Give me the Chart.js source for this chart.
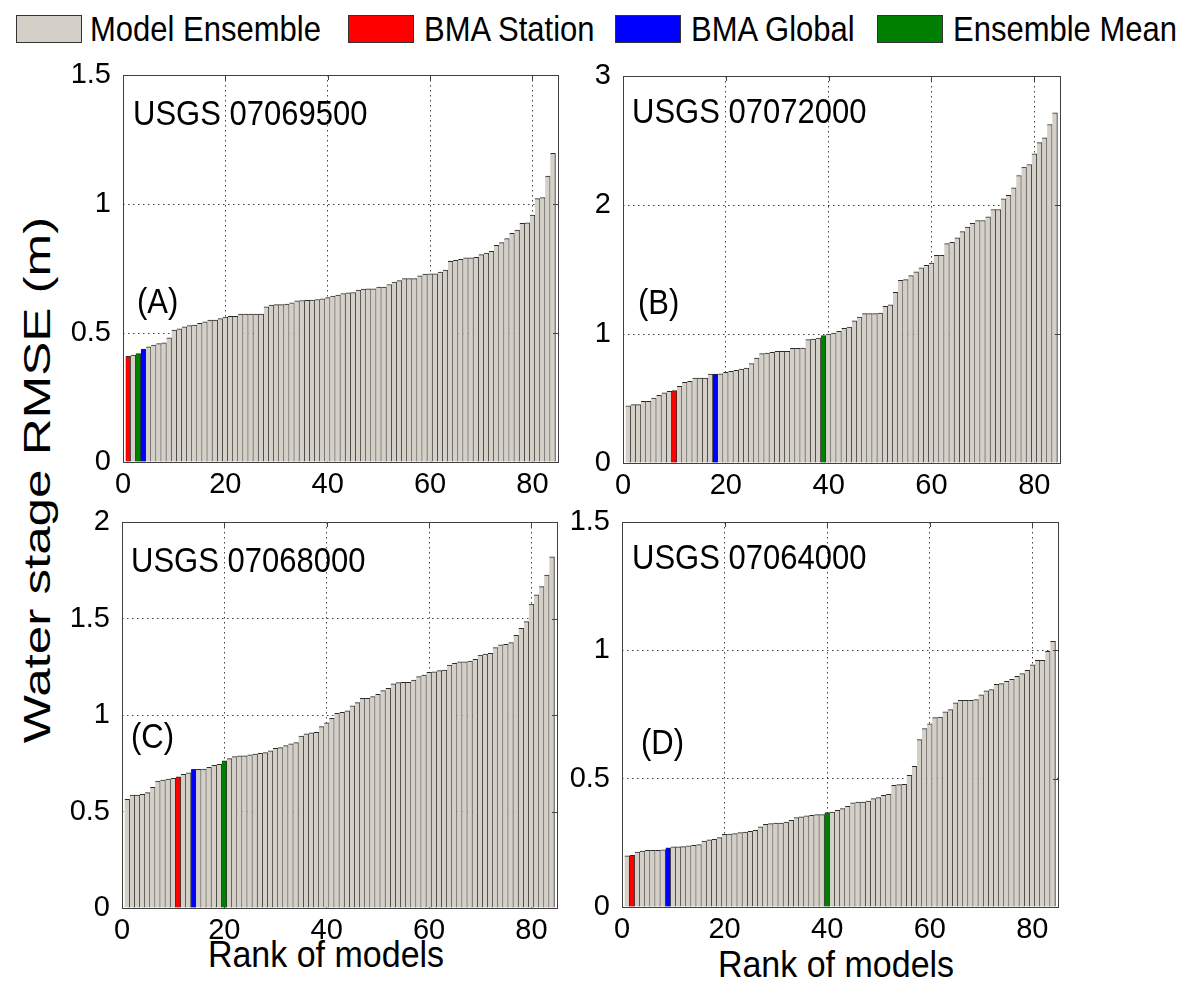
<!DOCTYPE html>
<html>
<head>
<meta charset="utf-8">
<script src="https://cdn.jsdelivr.net/npm/chart.js@4.4.0/dist/chart.umd.min.js"></script>
<style>
  body { margin: 0; background: #fff; width: 1180px; height: 985px; position: relative; overflow: hidden;
         font-family: "Liberation Sans", Arial, sans-serif; color: #000; }
  canvas { position: absolute; left: 0; top: 0; }
  .key { position: absolute; top: 15px; height: 28px; width: 66px; box-sizing: border-box; border: 1px solid #333; }
  .keytxt { position: absolute; top: 11px; font-size: 31px; line-height: 36px; white-space: nowrap;
            transform: scaleY(1.15); transform-origin: left center; }
  .xtitle { position: absolute; font-size: 34px; line-height: 40px; white-space: nowrap;
            transform: translateX(-50%) scaleY(1.1); }
  #ytitle { position: absolute; left: 38px; top: 480px; font-size: 36px; line-height: 40px; white-space: nowrap;
            transform: translate(-50%, -50%) rotate(-90deg) scaleX(1.42); }
</style>
</head>
<body>
<div class="key" style="left:16px;background:#d4d0c8"></div><div class="keytxt" style="left:90px">Model Ensemble</div>
<div class="key" style="left:348px;background:#ff0000"></div><div class="keytxt" style="left:424px">BMA Station</div>
<div class="key" style="left:615px;background:#0000ff"></div><div class="keytxt" style="left:691px">BMA Global</div>
<div class="key" style="left:877px;background:#008000"></div><div class="keytxt" style="left:953px">Ensemble Mean</div>

<div id="ytitle">Water stage RMSE (m)</div>
<div class="xtitle" style="left:326px;top:934px">Rank of models</div>
<div class="xtitle" style="left:836px;top:944px">Rank of models</div>

<canvas id="cA" width="1180" height="985"></canvas>
<canvas id="cB" width="1180" height="985"></canvas>
<canvas id="cC" width="1180" height="985"></canvas>
<canvas id="cD" width="1180" height="985"></canvas>

<script>
// ranks of the 84 models (x categories)
const ranks = Array.from({ length: 84 }, (_, i) => i + 1);

// sorted RMSE (m) for each gauge
const rmse07069500 = [
  0.410, 0.414, 0.420, 0.438, 0.446, 0.453, 0.459, 0.462, 0.481, 0.511,
  0.516, 0.524, 0.529, 0.531, 0.537, 0.543, 0.550, 0.550, 0.556, 0.562,
  0.565, 0.565, 0.573, 0.573, 0.573, 0.573, 0.573, 0.601, 0.608, 0.610,
  0.610, 0.612, 0.617, 0.625, 0.626, 0.627, 0.628, 0.630, 0.632, 0.637,
  0.643, 0.647, 0.653, 0.656, 0.657, 0.666, 0.670, 0.671, 0.671, 0.678,
  0.678, 0.688, 0.697, 0.703, 0.711, 0.711, 0.711, 0.722, 0.728, 0.729,
  0.729, 0.736, 0.744, 0.778, 0.782, 0.786, 0.791, 0.791, 0.793, 0.804,
  0.810, 0.817, 0.840, 0.850, 0.866, 0.886, 0.899, 0.925, 0.927, 0.957,
  1.021, 1.025, 1.108, 1.196
];
const rmse07072000 = [
  0.444, 0.452, 0.452, 0.478, 0.478, 0.504, 0.525, 0.543, 0.556, 0.561,
  0.594, 0.625, 0.633, 0.659, 0.659, 0.659, 0.690, 0.690, 0.692, 0.703,
  0.711, 0.718, 0.729, 0.736, 0.770, 0.814, 0.848, 0.853, 0.858, 0.866,
  0.866, 0.866, 0.889, 0.889, 0.891, 0.956, 0.961, 0.969, 0.987, 1.000,
  1.008, 1.020, 1.044, 1.054, 1.103, 1.132, 1.158, 1.158, 1.158, 1.163,
  1.214, 1.227, 1.323, 1.416, 1.421, 1.452, 1.481, 1.512, 1.532, 1.550,
  1.610, 1.610, 1.700, 1.710, 1.745, 1.794, 1.828, 1.857, 1.880, 1.880,
  1.908, 1.965, 1.965, 2.048, 2.074, 2.133, 2.229, 2.293, 2.314, 2.397,
  2.483, 2.521, 2.624, 2.715
];
const rmse07068000 = [
  0.563, 0.585, 0.585, 0.589, 0.598, 0.625, 0.658, 0.663, 0.668, 0.672,
  0.680, 0.693, 0.701, 0.718, 0.718, 0.720, 0.729, 0.739, 0.744, 0.762,
  0.774, 0.784, 0.788, 0.789, 0.793, 0.798, 0.801, 0.805, 0.815, 0.827,
  0.831, 0.841, 0.850, 0.857, 0.891, 0.902, 0.908, 0.910, 0.940, 0.960,
  0.983, 1.009, 1.014, 1.021, 1.048, 1.064, 1.086, 1.086, 1.095, 1.107,
  1.126, 1.138, 1.161, 1.168, 1.169, 1.169, 1.181, 1.199, 1.207, 1.221,
  1.224, 1.230, 1.233, 1.259, 1.268, 1.275, 1.276, 1.280, 1.288, 1.311,
  1.316, 1.320, 1.349, 1.363, 1.366, 1.375, 1.413, 1.449, 1.484, 1.575,
  1.622, 1.665, 1.725, 1.820
];
const rmse07064000 = [
  0.199, 0.201, 0.214, 0.218, 0.221, 0.221, 0.221, 0.223, 0.231, 0.234,
  0.234, 0.235, 0.238, 0.240, 0.243, 0.257, 0.262, 0.264, 0.270, 0.283,
  0.284, 0.286, 0.290, 0.292, 0.295, 0.299, 0.312, 0.322, 0.325, 0.327,
  0.327, 0.331, 0.338, 0.348, 0.351, 0.355, 0.357, 0.360, 0.360, 0.368,
  0.370, 0.377, 0.383, 0.392, 0.406, 0.409, 0.409, 0.413, 0.422, 0.426,
  0.435, 0.439, 0.474, 0.477, 0.478, 0.513, 0.548, 0.652, 0.695, 0.714,
  0.738, 0.740, 0.760, 0.769, 0.795, 0.805, 0.805, 0.805, 0.808, 0.827,
  0.842, 0.847, 0.868, 0.870, 0.879, 0.887, 0.899, 0.909, 0.922, 0.944,
  0.961, 0.961, 0.996, 1.035
];

// rank held by the BMA / ensemble-mean predictions in each panel (A, B, C, D)
const bmaStationRank = [1, 10, 11, 2];
const bmaGlobalRank = [4, 18, 14, 9];
const ensembleMeanRank = [3, 39, 20, 40];

// y-axis limits and tick steps per panel
const yMax = [1.5, 3, 2, 1.5];
const yStep = [0.5, 1, 0.5, 0.5];
const gauges = ["USGS 07069500", "USGS 07072000", "USGS 07068000", "USGS 07064000"];
const panelTags = ["(A)", "(B)", "(C)", "(D)"];
const series = [rmse07069500, rmse07072000, rmse07068000, rmse07064000];

const COLORS = { ens: "#d4d0c8", station: "#ff0000", global: "#0000ff", mean: "#008000" };

// plot-area boxes in page pixels: left, top, right, bottom
const boxes = [
  [123, 75, 558, 462],
  [623, 76, 1060, 463],
  [122, 522, 557, 908],
  [622, 522, 1058, 907],
];
// where the gauge id and the panel tag sit, offset from the plot's top-left
const textPos = [
  { id: [10, 40], tag: [14, 228] },
  { id: [9, 37], tag: [15, 228] },
  { id: [9, 40], tag: [9, 216] },
  { id: [10, 37], tag: [19, 222] },
];

Chart.defaults.font.family = '"Liberation Sans", Arial, sans-serif';
Chart.defaults.color = "#000";

const YAXIS_W = 60;
const XAXIS_H = 50;

// draws the axes box, inward ticks on the right/top, and the panel texts
const panelDeco = {
  id: "panelDeco",
  afterDatasetsDraw(chart, args, opts) {
    const { ctx, chartArea: a, scales } = chart;
    ctx.save();
    ctx.strokeStyle = "#404040";
    ctx.lineWidth = 1;
    ctx.beginPath();
    scales.y.ticks.forEach((t) => {
      const py = Math.round(scales.y.getPixelForValue(t.value)) + 0.5;
      ctx.moveTo(a.right, py);
      ctx.lineTo(a.right - 5, py);
    });
    scales.x.ticks.forEach((t) => {
      const px = Math.round(scales.x.getPixelForValue(t.value)) + 0.5;
      ctx.moveTo(px, a.top);
      ctx.lineTo(px, a.top + 5);
    });
    ctx.stroke();
    ctx.strokeRect(Math.round(a.left) + 0.5, Math.round(a.top) + 0.5,
      Math.round(a.right - a.left), Math.round(a.bottom - a.top));

    ctx.fillStyle = "#000";
    ctx.textBaseline = "middle";
    ctx.textAlign = "left";
    ctx.font = '31px "Liberation Sans", Arial, sans-serif';
    const txt = (s, x, y) => {
      ctx.save();
      ctx.translate(x, y);
      ctx.scale(1, 1.12);
      ctx.fillText(s, 0, 0);
      ctx.restore();
    };
    txt(opts.gauge, a.left + opts.pos.id[0], a.top + opts.pos.id[1]);
    txt(opts.tag, a.left + opts.pos.tag[0], a.top + opts.pos.tag[1]);
    ctx.restore();
  },
};

const tickLabel = (v) => String(+v.toFixed(2));

function makePanel(i) {
  const vals = series[i];
  const [L, T, R, B] = boxes[i];
  const colors = ranks.map((r) => {
    if (r === bmaStationRank[i]) return COLORS.station;
    if (r === bmaGlobalRank[i]) return COLORS.global;
    if (r === ensembleMeanRank[i]) return COLORS.mean;
    return COLORS.ens;
  });

  new Chart(document.getElementById("c" + "ABCD"[i]), {
    type: "bar",
    data: {
      datasets: [
        {
          data: ranks.map((r, k) => ({ x: r, y: vals[k] })),
          backgroundColor: colors,
          borderColor: "#2a2a2a",
          borderWidth: { top: 1, right: 1, left: 0, bottom: 0 },
          borderSkipped: false,
          barPercentage: 1,
          categoryPercentage: 1,
        },
      ],
    },
    options: {
      responsive: false,
      animation: false,
      events: [],
      layout: {
        padding: { left: L - YAXIS_W, top: T, right: 1180 - R, bottom: 985 - B - XAXIS_H },
      },
      plugins: {
        legend: { display: false },
        tooltip: { enabled: false },
        panelDeco: { gauge: gauges[i], tag: panelTags[i], pos: textPos[i] },
      },
      scales: {
        x: {
          type: "linear",
          offset: false,
          min: 0,
          max: 85,
          afterFit: (s) => { s.height = XAXIS_H; },
          ticks: { stepSize: 20, includeBounds: false, font: { size: 29 }, padding: 6, maxRotation: 0,
                   callback: tickLabel },
          grid: { offset: false, color: "#404040", lineWidth: 1, drawTicks: false },
          border: { display: false, dash: [1.5, 3.5] },
        },
        y: {
          min: 0,
          max: yMax[i],
          afterFit: (s) => { s.width = YAXIS_W; },
          ticks: { stepSize: yStep[i], font: { size: 29 }, padding: 12, callback: tickLabel },
          grid: { color: "#404040", lineWidth: 1, drawTicks: false },
          border: { display: false, dash: [1.5, 3.5] },
        },
      },
    },
    plugins: [panelDeco],
  });
}

[0, 1, 2, 3].forEach(makePanel);
</script>
</body>
</html>
